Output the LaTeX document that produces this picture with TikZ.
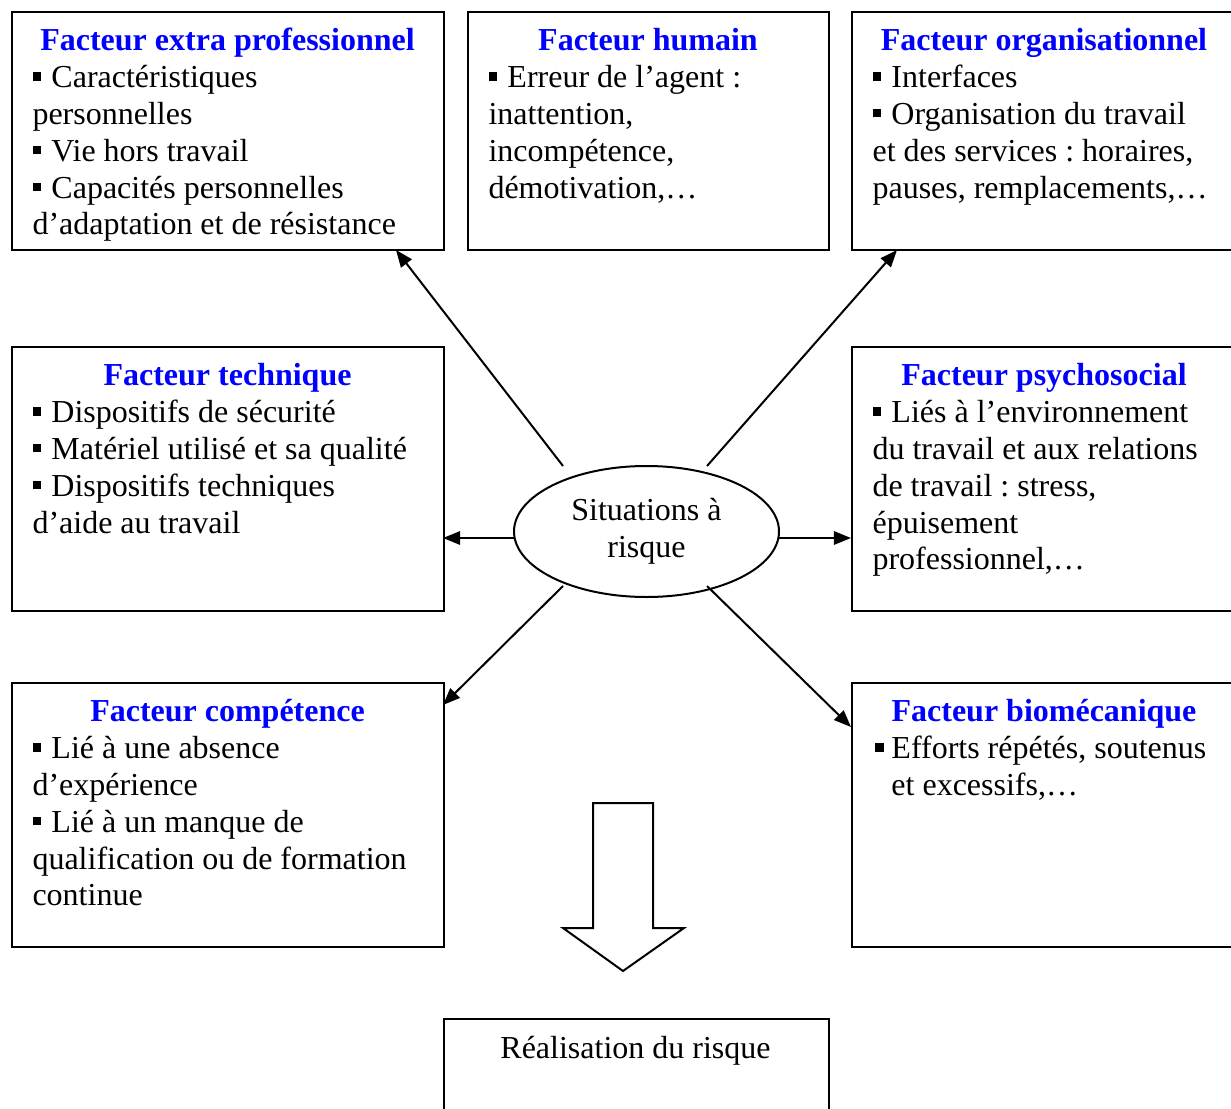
\documentclass[tikz,border=0pt]{standalone}
\usepackage{fontspec}
\setmainfont{Liberation Serif}
\usetikzlibrary{arrows.meta,shapes.geometric}
\newcommand{\bul}{\rule[2.7pt]{3.1pt}{3.1pt}\hspace{4pt}}
\newcommand{\bultight}{\rule[2.7pt]{3.1pt}{3.1pt}\hspace{2.9pt}}
\newcommand{\ttl}[1]{{\centering\bfseries\color{blue}\strut#1\par}}
\newcommand{\fs}{\fontsize{12pt}{13.8pt}\selectfont\frenchspacing}
\begin{document}
\begin{tikzpicture}[x=0.375pt,y=-0.375pt,
  box/.style={draw, line width=0.75pt, anchor=north west, inner sep=0pt, minimum height=89.25pt},
  tallbox/.style={box, minimum height=99pt},
  body/.style={anchor=north west, inner sep=0pt, align=flush left, font=\fs},
  conn/.style={line width=0.75pt, -{Triangle[length=6.4pt,width=5pt]}}]
\useasboundingbox (0,0) rectangle (1231,1109);
\clip (0,0) rectangle (1231,1109);

% boxes
\node[box, minimum width=162pt] (tl) at (11,11) {};
\node[box, minimum width=135.375pt] (tm) at (467,11) {};
\node[box, minimum width=144.375pt] (tr) at (851,11) {};
\node[tallbox, minimum width=162pt] (ml) at (11,346) {};
\node[tallbox, minimum width=144.375pt] (mr) at (851,346) {};
\node[tallbox, minimum width=162pt] (bl) at (11,682) {};
\node[tallbox, minimum width=144.375pt] (br) at (851,682) {};
\node[box, minimum width=144.375pt, minimum height=42pt] (res) at (443,1018) {};

% texts
\node[body, text width=146.25pt] (tlt) at (32,24.7) {\ttl{Facteur extra professionnel}%
\bul Caractéristiques\\personnelles\\\bul Vie hors travail\\\bul Capacités personnelles\\d’adaptation et de résistance};
\node[body, text width=119.6pt] (tmt) at (488,24.7) {\ttl{Facteur humain}%
\bul Erreur de l’agent :\\inattention,\\incompétence,\\démotivation,…};
\node[body, text width=128.6pt] (trt) at (872,24.7) {\ttl{Facteur organisationnel}%
\bul Interfaces\\\bul Organisation du travail\\et des services : horaires,\\pauses, remplacements,…};
\node[body, text width=146.25pt] (mlt) at (32,359.7) {\ttl{Facteur technique}%
\bul Dispositifs de sécurité\\\bul Matériel utilisé et sa qualité\\\bul Dispositifs techniques\\d’aide au travail};
\node[body, text width=128.6pt] (mrt) at (872,359.7) {\ttl{Facteur psychosocial}%
\bul Liés à l’environnement\\du travail et aux relations\\de travail : stress,\\épuisement\\professionnel,…};
\node[body, text width=146.25pt] (blt) at (32,695.7) {\ttl{Facteur compétence}%
\bul Lié à une absence\\d’expérience\\\bul Lié à un manque de\\qualification ou de formation\\continue};
\node[body, text width=128.6pt] (brt) at (872,695.7) {\ttl{Facteur biomécanique}%
\hspace*{1.1pt}\bultight Efforts répétés, soutenus\\\hspace*{7.1pt}et excessifs,…};
\node[font=\fs, anchor=base, inner sep=0pt] (rest) at (635.5,1058) {Réalisation du risque};

% centre
\node[draw, ellipse, line width=0.75pt, minimum width=99.375pt, minimum height=49.125pt,
      inner sep=0pt, align=center, font=\fs] (sit) at (646.5,531.5) {Situations à\\risque};

% connectors
\coordinate (s1) at (563,466);
\coordinate (s2) at (707,466);
\coordinate (s3) at (514,538);
\coordinate (s4) at (779,538);
\coordinate (s5) at (563,586);
\coordinate (s6) at (707,586);
\coordinate (e1) at (396,250);
\coordinate (e2) at (897,250);
\coordinate (e3) at (443,538);
\coordinate (e4) at (851,538);
\coordinate (e5) at (443,705);
\coordinate (e6) at (851,727);
\draw[conn] (s1) -- (e1);
\draw[conn] (s2) -- (e2);
\draw[conn] (s3) -- (e3);
\draw[conn] (s4) -- (e4);
\draw[conn] (s5) -- (e5);
\draw[conn] (s6) -- (e6);

% big arrow
\draw[line width=0.75pt, line join=miter] (593,803) -- (653,803) -- (653,928) -- (684,928) -- (623,971) -- (563,928) -- (593,928) -- cycle;
\end{tikzpicture}
\end{document}
